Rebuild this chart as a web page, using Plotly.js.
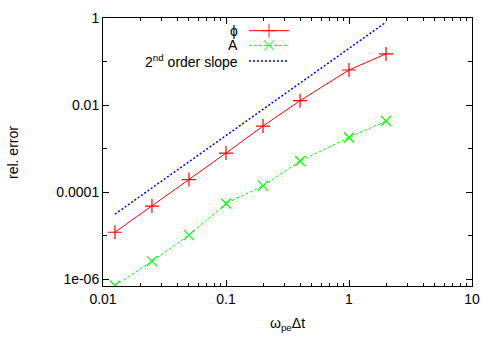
<!DOCTYPE html>
<html>
<head>
<meta charset="utf-8">
<script src="https://cdn.plot.ly/plotly-3.0.1.min.js"></script>
<style>body{margin:0;background:#fff;}</style>
</head>
<body>
<div id="plot" style="width:500px;height:350px;"></div>
<script>
// time step values (omega_pe * dt)
var dtVals = [0.0125, 0.025, 0.05, 0.1, 0.2, 0.4, 1, 2];
// relative error of phi and A
var phiErr = [1.2e-5, 4.8e-5, 1.95e-4, 7.9e-4, 3.3e-3, 0.0126, 0.064, 0.15];
var aErr = [7.1e-7, 2.6e-6, 1.03e-5, 5.5e-5, 1.4e-4, 5.2e-4, 1.8e-3, 4.3e-3];
// reference line, 2nd order
var slopeX = [0.0125, 2];
var slopeY = [3.125e-5, 0.8];

var names = ['ϕ', 'A', '2<sup>nd</sup> order slope'];
var xTickVals = [0.01, 0.1, 1, 10];
var xTickText = ['0.01', '0.1', '1', '10'];
var yTickVals = [1e-6, 1e-4, 1e-2, 1];
var yTickText = ['1e-06', '0.0001', '0.01', '1'];
var yMinorVals = [1e-5, 1e-3, 0.1];

// minor ticks 2..9 in each decade
var xMinorVals = [];
[0.01, 0.1, 1].forEach(function (d) {
    for (var k = 2; k <= 9; k++) xMinorVals.push(k * d);
});

var fnt = {family: 'Liberation Sans, Arial, sans-serif', size: 14, color: '#000'};

var phi = {
    x: dtVals, y: phiErr, mode: 'lines+markers', type: 'scatter',
    line: {color: '#ff0000', width: 1},
    marker: {symbol: 'cross-thin', size: 10, line: {color: '#ff0000', width: 1.2}}
};
var aPot = {
    x: dtVals, y: aErr, mode: 'lines+markers', type: 'scatter',
    line: {color: '#00ff00', width: 1, dash: '3px,2px'},
    marker: {symbol: 'x-thin', size: 10, line: {color: '#00ff00', width: 1.2}}
};
var slope = {
    x: slopeX, y: slopeY, mode: 'lines', type: 'scatter',
    line: {color: '#0000ff', width: 1.5, dash: '2px,2px'}
};

// legend samples drawn on a hidden overlay axis (gnuplot style: text left, line right)
var legX = [0.3957, 0.45, 0.504];
var legY = [0.9526, 0.898, 0.8396];
function sample(tr, yy) {
    var s = {
        x: legX, y: [yy, yy, yy], xaxis: 'x2', yaxis: 'y2',
        mode: tr.mode, type: 'scatter', line: tr.line,
        hoverinfo: 'skip'
    };
    if (tr.marker) {
        s.marker = {symbol: tr.marker.symbol, size: [0, 10, 0], line: tr.marker.line};
    }
    return s;
}

var data = [slope, aPot, phi, sample(phi, legY[0]), sample(aPot, legY[1]), sample(slope, legY[2])];

var annotations = names.map(function (n, i) {
    return {
        text: n, xref: 'paper', yref: 'paper', x: 0.3686, y: legY[i],
        xanchor: 'right', yanchor: 'middle', showarrow: false, font: fnt,
        borderpad: 0
    };
});
// y axis label, placed further out than plotly's title allows
annotations.push({
    text: 'rel. error', xref: 'paper', yref: 'paper', x: -0.244, y: 0.5,
    xanchor: 'center', yanchor: 'middle', textangle: -90, showarrow: false, font: fnt
});

var layout = {
    width: 500, height: 350,
    margin: {l: 103, r: 28, t: 18, b: 64},
    paper_bgcolor: '#fff', plot_bgcolor: '#fff',
    showlegend: false,
    font: fnt,
    xaxis: {
        type: 'log', range: [-2, 1],
        tickmode: 'array', tickvals: xTickVals, ticktext: xTickText,
        ticks: 'inside', ticklen: 6, tickcolor: '#000',
        minor: {tickmode: 'array', tickvals: xMinorVals, ticks: 'inside', ticklen: 3, tickcolor: '#000', showgrid: false},
        showgrid: false, zeroline: false,
        showline: true, linecolor: '#000', linewidth: 1, mirror: 'ticks',
        title: {text: 'ω<sub>pe</sub>Δt', font: fnt, standoff: 12}
    },
    yaxis: {
        type: 'log', range: [Math.log10(7e-7), 0],
        tickmode: 'array', tickvals: yTickVals, ticktext: yTickText,
        ticks: 'inside', ticklen: 6, tickcolor: '#000',
        minor: {tickmode: 'array', tickvals: yMinorVals, ticks: 'inside', ticklen: 4, tickcolor: '#000', showgrid: false},
        showgrid: false, zeroline: false,
        showline: true, linecolor: '#000', linewidth: 1, mirror: 'ticks'
    },
    xaxis2: {overlaying: 'x', range: [0, 1], visible: false, fixedrange: true},
    yaxis2: {overlaying: 'y', range: [0, 1], visible: false, fixedrange: true},
    annotations: annotations
};

Plotly.newPlot('plot', data, layout, {staticPlot: true});
</script>
</body>
</html>
